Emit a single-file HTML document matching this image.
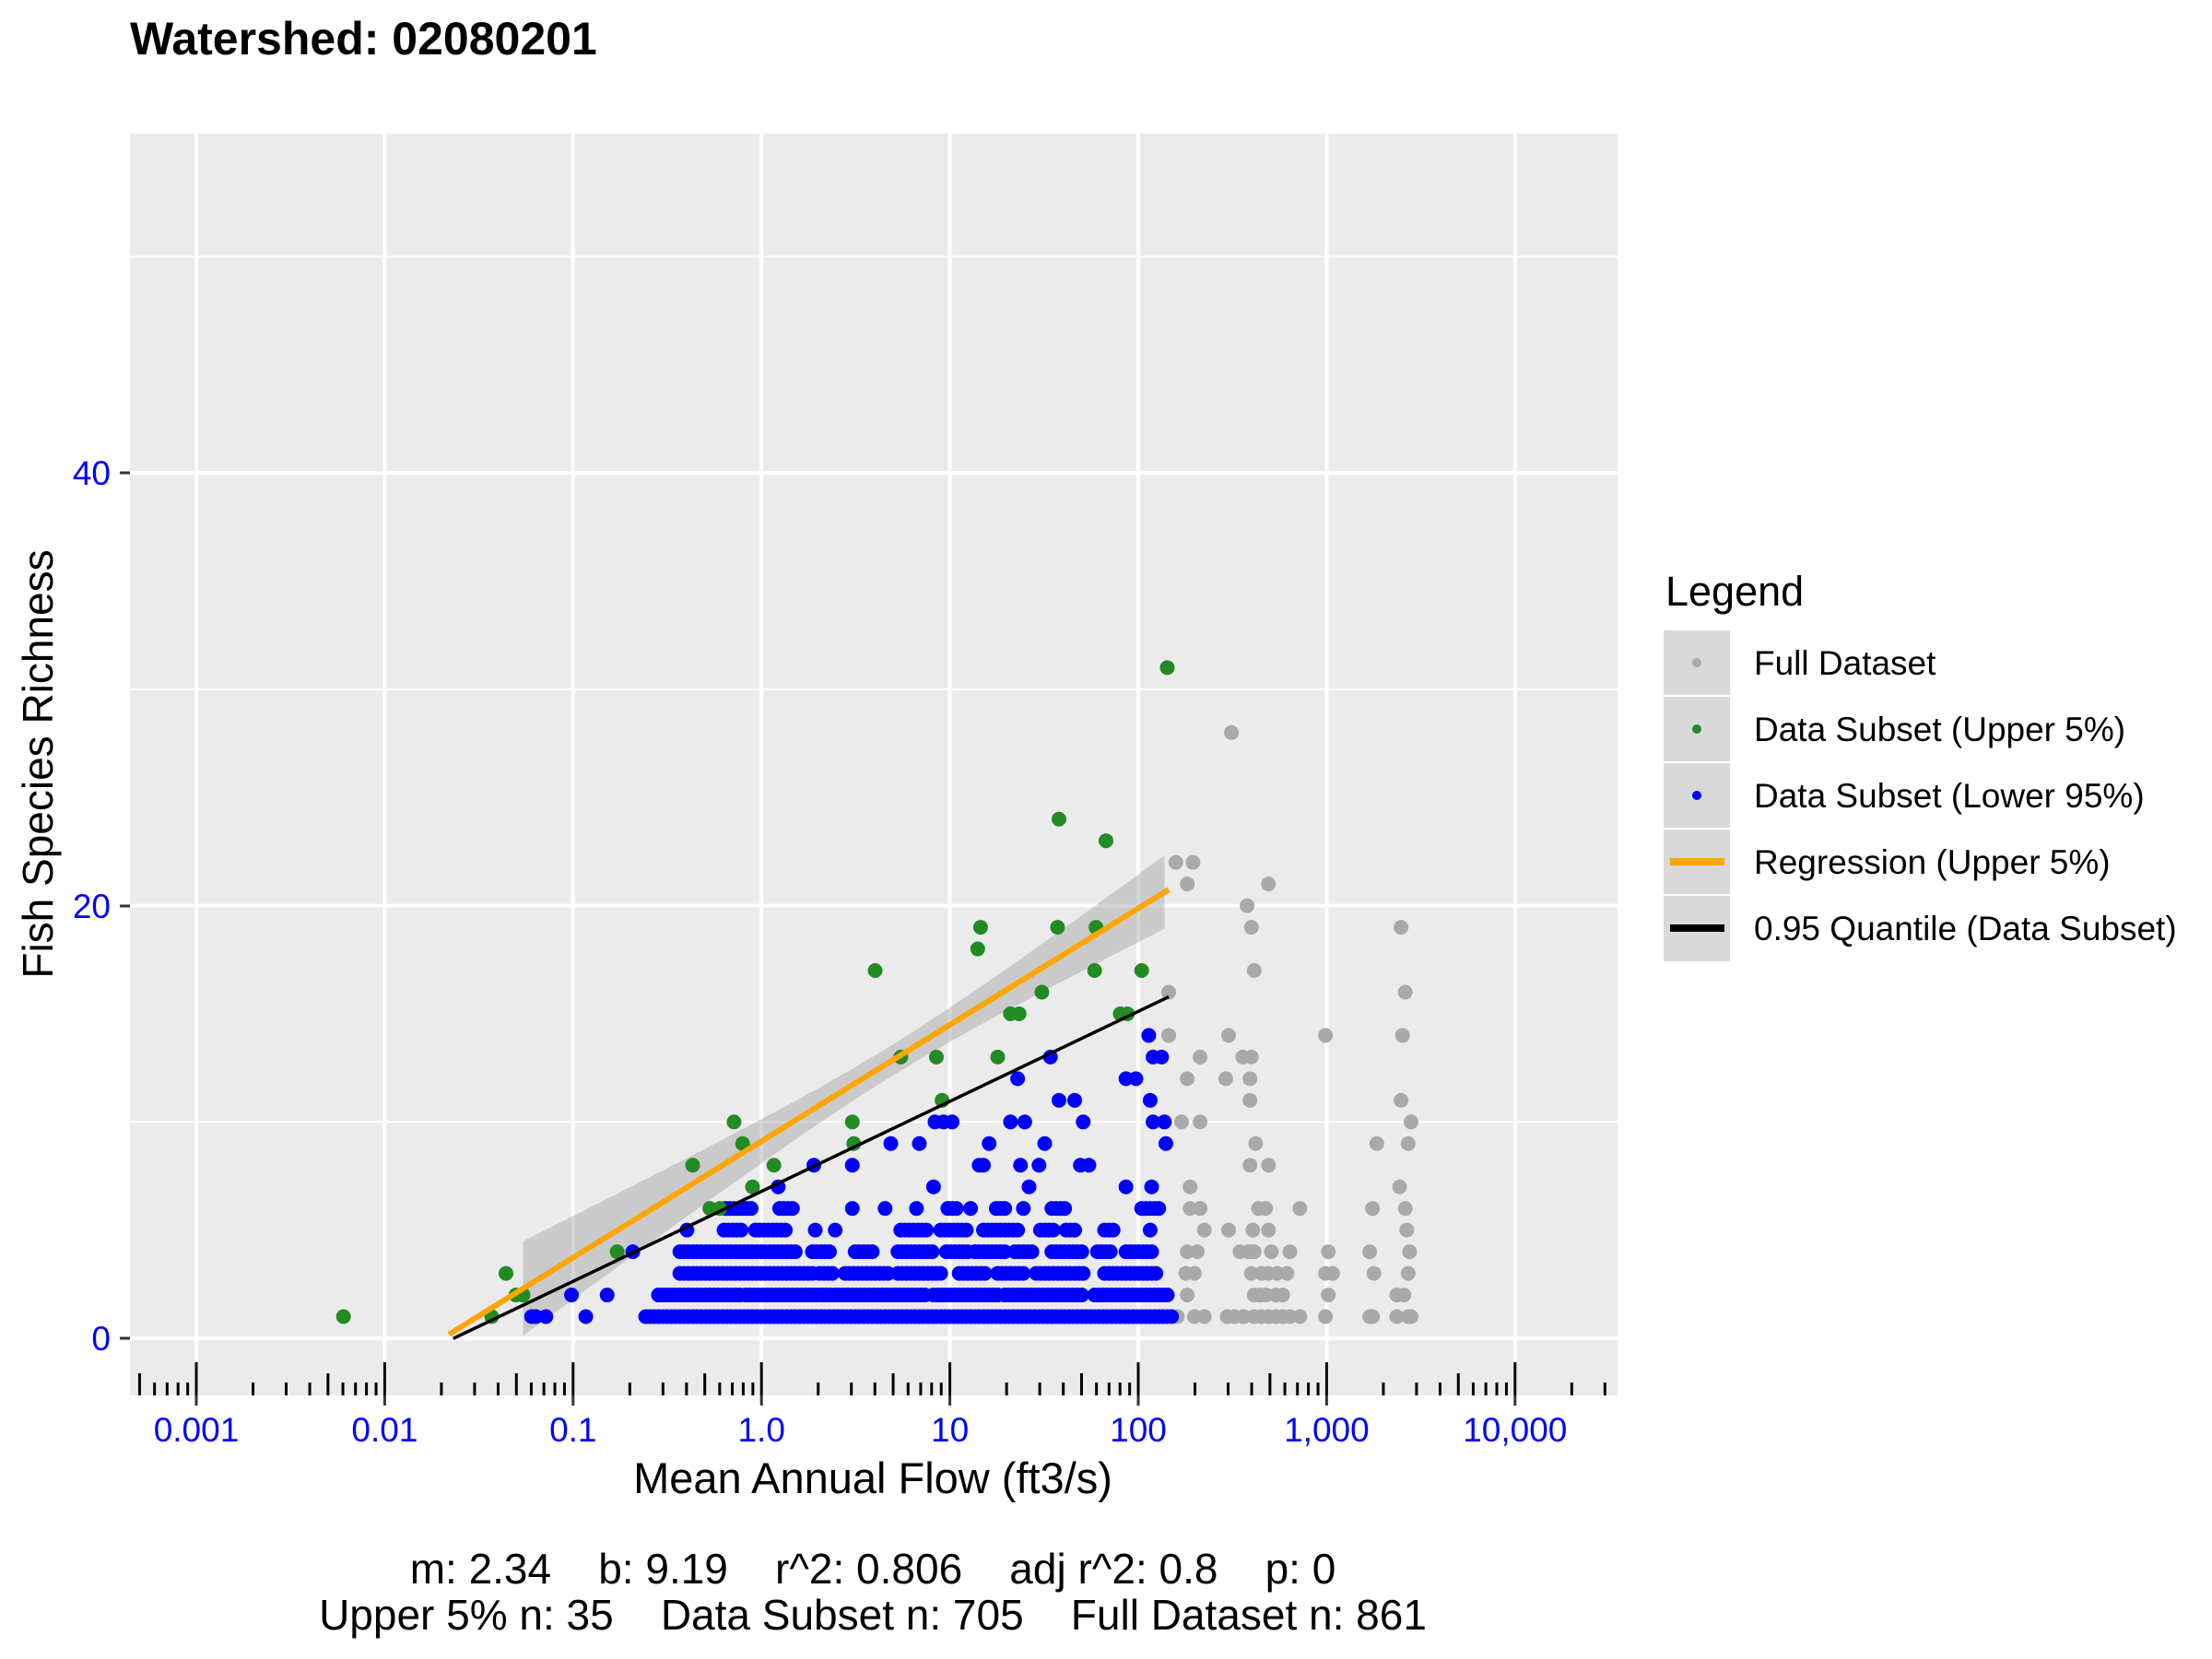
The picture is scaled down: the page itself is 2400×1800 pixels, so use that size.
<!DOCTYPE html>
<html><head><meta charset="utf-8"><style>
html,body{margin:0;padding:0;background:#fff;}
svg{display:block;font-family:"Liberation Sans",Arial,sans-serif;}
</style></head><body>
<svg id="s" width="2400" height="1800" viewBox="0 0 2400 1800" xmlns="http://www.w3.org/2000/svg">
<rect width="2400" height="1800" fill="#fff"/>
<text x="141" y="59" font-size="50" font-weight="bold">Watershed: 02080201</text>
<rect x="141" y="145" width="1614" height="1369" fill="#ebebeb"/>
<g id="grid"></g>
<g id="ticks"></g>
<g id="rib"></g>
<g id="pts"></g>
<g id="lines"></g>
<g font-size="37" fill="#0000ff" text-anchor="end">
<text x="120" y="1465">0</text>
<text x="120" y="996">20</text>
<text x="120" y="526">40</text>
</g>
<g stroke="#333" stroke-width="3">
<line x1="130" y1="1452" x2="141" y2="1452"/>
<line x1="130" y1="983" x2="141" y2="983"/>
<line x1="130" y1="513" x2="141" y2="513"/>
</g>
<g id="xl" font-size="37" fill="#0000ff" text-anchor="middle"></g>
<text x="947" y="1620" font-size="47" text-anchor="middle">Mean Annual Flow (ft3/s)</text>
<text transform="translate(57,829) rotate(-90)" font-size="46" text-anchor="middle">Fish Species Richness</text>
<text x="947" y="1718" font-size="46" text-anchor="middle" xml:space="preserve">m: 2.34    b: 9.19    r^2: 0.806    adj r^2: 0.8    p: 0</text>
<text x="947" y="1768" font-size="46" text-anchor="middle" xml:space="preserve">Upper 5% n: 35    Data Subset n: 705    Full Dataset n: 861</text>
<text x="1807" y="657" font-size="45">Legend</text>
<g fill="#d9d9d9">
<rect x="1805" y="684" width="72" height="70"/>
<rect x="1805" y="756" width="72" height="70"/>
<rect x="1805" y="828" width="72" height="70"/>
<rect x="1805" y="900" width="72" height="70"/>
<rect x="1805" y="972" width="72" height="71"/>
</g>
<circle cx="1841" cy="719" r="5" fill="#a9a9a9"/>
<circle cx="1841" cy="791" r="5" fill="#228b22"/>
<circle cx="1841" cy="863" r="5" fill="#0000ff"/>
<line x1="1812" y1="935" x2="1871" y2="935" stroke="#ffa500" stroke-width="8"/>
<line x1="1812" y1="1007" x2="1871" y2="1007" stroke="#000" stroke-width="8"/>
<g font-size="37">
<text x="1903" y="732">Full Dataset</text>
<text x="1903" y="804">Data Subset (Upper 5%)</text>
<text x="1903" y="876">Data Subset (Lower 95%)</text>
<text x="1903" y="948">Regression (Upper 5%)</text>
<text x="1903" y="1020">0.95 Quantile (Data Subset)</text>
</g>
</svg>
<script>
(function(){
var NS="http://www.w3.org/2000/svg";
function el(p,t,a){var e=document.createElementNS(NS,t);for(var k in a)e.setAttribute(k,a[k]);document.getElementById(p).appendChild(e);return e;}
function X(px){return px*1.5464;}
function Y(v){return 1452-v*23.47;}
function XL(lv){return 213+(lv+3)*204.4;}
[10,30,50].forEach(function(v){el("grid","line",{x1:141,x2:1755,y1:Y(v),y2:Y(v),stroke:"#fff","stroke-width":2});});
[0,20,40].forEach(function(v){el("grid","line",{x1:141,x2:1755,y1:Y(v),y2:Y(v),stroke:"#fff","stroke-width":4});});
var labs=["0.001","0.01","0.1","1.0","10","100","1,000","10,000"];
for(var d=-3;d<=4;d++){var x=XL(d);
el("grid","line",{x1:x,x2:x,y1:145,y2:1514,stroke:"#fff","stroke-width":4});
el("grid","line",{x1:x,x2:x,y1:1514,y2:1525,stroke:"#333","stroke-width":3});
var t=el("xl","text",{x:x,y:1564});t.textContent=labs[d+3];}
for(var d2=-4;d2<=4;d2++){for(var m=1;m<=9;m++){var lv=d2+Math.log10(m);var xx=XL(lv);if(xx<141||xx>1755)continue;
var ty=m==1?1478:(m==5?1490:1500);
el("ticks","line",{x1:xx,x2:xx,y1:ty,y2:1514,stroke:"#000","stroke-width":3});}}
var pa=[],pb=[];
function oy(px){return 945-(px-315)*315/505;}
function hw(px){return Math.sqrt(121+0.015*(px-625)*(px-625));}
for(var px=367;px<=820;px+=5){pa.push(X(px)+","+(oy(px)-hw(px))*1.532);pb.unshift(X(px)+","+(oy(px)+hw(px))*1.532);}
el("rib","polygon",{points:pa.concat(pb).join(" "),fill:"#999","fill-opacity":"0.4"});
function P(px,v,c){el("pts","circle",{cx:X(px),cy:Y(v),r:8,fill:c});}
var G="#a9a9a9",B="#0000ff",GR="#228b22";
var gray=[[820,16],[820,14],[825,22],[837,22],[833,21],[833,12],[829,10],[842,10],[842,13],[835,7],[835,6],[833,4],[840,4],[838,3],[833,2],[826,1],[838,1],[860,12],[862,14],[864,28],[862,5],[861,1],[872,13],[875,20],[878,19],[880,17],[878,13],[877,11],[877,12],[881,9],[877,8],[879,5],[880,4],[876,4],[883,6],[885,3],[884,2],[873,1],[890,21],[890,8],[888,6],[890,5],[892,4],[890,3],[895,2],[900,1],[912,6],[930,14],[932,4],[932,2],[930,1],[935,3],[961,4],[964,3],[963,6],[966,9],[963,1],[983,19],[984,14],[983,11],[982,7],[986,16],[988,9],[990,10],[986,6],[987,5],[989,4],[988,3],[985,2],[990,1],[980,1],[845,1],[866,1],[880,1],[885,1],[890,1],[905,1],[912,1],[832,3],[845,5],[870,4],[878,3],[880,2],[888,2],[900,2],[903,3],[930,3],[961,1],[980,2],[988,1],[842,6],[905,4],[872,1],[895,1],[878,4],[896,3]];
gray.forEach(function(p){P(p[0],p[1],G);});
var segs=[[1,453,822],[2,462,520],[2,523,650],[2,655,700],[2,705,760],[2,768,820],[3,477,570],[3,575,585],[3,593,625],[3,630,660],[3,673,692],[3,700,718],[3,727,760],[3,775,812],[4,477,560],[4,570,582],[4,600,612],[4,630,655],[4,664,680],[4,684,705],[4,712,725],[4,738,760],[4,770,780],[4,790,810],[5,482,482],[5,508,520],[5,530,552],[5,572,572],[5,586,586],[5,632,650],[5,660,678],[5,690,715],[5,730,740],[5,748,755],[5,775,782],[5,807,807],[6,509,527],[6,547,557],[6,598,598],[6,621,621],[6,643,643],[6,665,672],[6,681,681],[6,699,705],[6,718,718],[6,738,748],[6,801,815]];
segs.forEach(function(s){for(var x=s[1];x<=s[2];x+=3)P(x,s[0],B);});
var blue=[[373,1],[376,1],[383,1],[401,2],[411,1],[426,2],[444,4],[571,8],[598,8],[687,8],[690,8],[716,8],[729,8],[758,8],[764,8],[625,9],[645,9],[694,9],[733,9],[818,9],[656,10],[662,10],[668,10],[709,10],[719,10],[760,10],[809,10],[817,10],[743,11],[754,11],[807,11],[714,12],[790,12],[797,12],[737,13],[809,13],[815,13],[806,14],[546,7],[655,7],[722,7],[790,7],[808,7]];
blue.forEach(function(p){P(p[0],p[1],B);});
var green=[[241,1],[345,1],[355,3],[362,2],[367,2],[433,4],[486,8],[498,6],[505,6],[515,10],[521,9],[528,7],[543,8],[598,10],[599,9],[614,17],[632,13],[657,13],[661,11],[686,18],[688,19],[700,13],[709,15],[715,15],[731,16],[742,19],[743,24],[768,17],[769,19],[776,23],[786,15],[791,15],[801,17],[819,31]];
green.forEach(function(p){P(p[0],p[1],GR);});
el("lines","line",{x1:X(315),y1:945*1.532,x2:X(820),y2:630*1.532,stroke:"#ffa500","stroke-width":6});
el("lines","line",{x1:X(318),y1:948*1.532,x2:X(820),y2:706*1.532,stroke:"#000","stroke-width":3.5});
})();
</script>
</body></html>
